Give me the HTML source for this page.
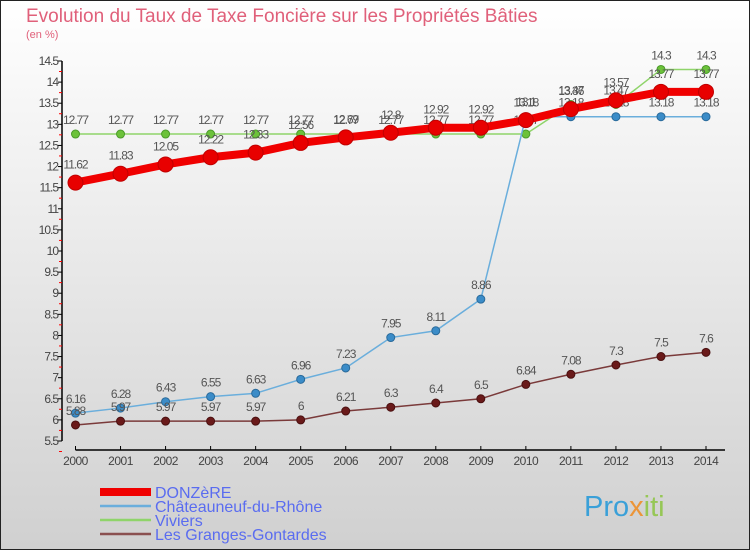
<!DOCTYPE html>
<html><head><meta charset="utf-8"><style>
body{margin:0;width:750px;height:550px;overflow:hidden;font-family:"Liberation Sans",sans-serif}
</style></head><body>
<svg id="chart" width="750" height="550" xmlns="http://www.w3.org/2000/svg">
<defs><linearGradient id="bg" x1="0" y1="0" x2="0" y2="1"><stop offset="0" stop-color="#ffffff"/><stop offset="1" stop-color="#d0d0d0"/></linearGradient></defs>
<rect x="0.5" y="0.5" width="749" height="549" fill="url(#bg)" stroke="#222"/>
<text x="26" y="22" font-size="19" fill="#e0607a">Evolution du Taux de Taxe Foncière sur les Propriétés Bâties</text>
<text x="26" y="38" font-size="11" fill="#e0607a">(en %)</text>
<g id="g"></g>
<text x="584" y="516" font-size="29" fill="#3aa0d8">Pro<tspan fill="#f08a1c" fill-opacity="0.85">x</tspan><tspan fill="#8bc43f" fill-opacity="0.85">iti</tspan></text>
</svg>
<script>
const years=[2000,2001,2002,2003,2004,2005,2006,2007,2008,2009,2010,2011,2012,2013,2014];
const donzere=[11.62,11.83,12.05,12.22,12.33,12.56,12.69,12.8,12.92,12.92,13.1,13.36,13.57,13.77,13.77];
const chateauneuf=[6.16,6.28,6.43,6.55,6.63,6.96,7.23,7.95,8.11,8.86,13.18,13.18,13.18,13.18,13.18];
const viviers=[12.77,12.77,12.77,12.77,12.77,12.77,12.77,12.77,12.77,12.77,12.77,13.47,13.47,14.3,14.3];
const granges=[5.88,5.97,5.97,5.97,5.97,6,6.21,6.3,6.4,6.5,6.84,7.08,7.3,7.5,7.6];
const yTicks=[5.5,6,6.5,7,7.5,8,8.5,9,9.5,10,10.5,11,11.5,12,12.5,13,13.5,14,14.5];
const NS="http://www.w3.org/2000/svg";
const g=document.getElementById('g');
const X=i=>75.5+i*(706-75.5)/14;
const Y=v=>61+(14.5-v)*(441-61)/9;
function el(t,a){const e=document.createElementNS(NS,t);for(const k in a)e.setAttribute(k,a[k]);g.appendChild(e);return e;}
let ax=el('path',{d:`M62 ${Y(14.5)}V${Y(5.5)}M75.5 450H725`,stroke:'#000','stroke-width':1.5,fill:'none'});


yTicks.forEach(v=>{
 let t=el('line',{x1:58,x2:62,y1:Y(v),y2:Y(v),stroke:'#000'});
 
 
 let m=el('line',{x1:59,x2:62,y1:Y(v)+10.5,y2:Y(v)+10.5,stroke:'#f00'});
 
 
 let l=el('text',{x:58,y:Y(v)+4,'font-size':12,'text-anchor':'end',fill:'#444','letter-spacing':'-1'});
 l.textContent=v;
 
 
});
years.forEach((yr,i)=>{
 let t=el('line',{x1:X(i),x2:X(i),y1:446,y2:450,stroke:'#000'});
 
 
 let l=el('text',{x:X(i),y:465,'font-size':12,'text-anchor':'middle',fill:'#444','letter-spacing':'-0.5'});
 l.textContent=yr;
 
 
});
function series(name,vals,color,w,r,dot,stroke){
 let p=el('polyline',{points:vals.map((v,i)=>X(i)+','+Y(v)).join(' '),fill:'none',stroke:color,'stroke-width':w});
 
 
 vals.forEach((v,i)=>{
  let c=el('circle',{cx:X(i),cy:Y(v),r:r,fill:dot,stroke:stroke,'stroke-width':1});
  
  
  let t=el('text',{x:X(i),y:Y(v)-10-(r>5?4:0),'font-size':12,'text-anchor':'middle',fill:'#555','letter-spacing':'-1'});
  t.textContent=v;
  
  
 });
}
series('viviers',viviers,'#8fd46a',1.5,4,'#6cc23a','#4a9a2a');
series('chateauneuf',chateauneuf,'#6aaedc',1.5,4,'#3b8cc8','#2a6a9a');
series('granges',granges,'#7a3a3a',1.5,4,'#6a1a1a','#4a1010');
series('donzere',donzere,'#f00000',8,7.5,'#e80000','#c00000');
const legend=[['DONZèRE','#f00000',8],['Châteauneuf-du-Rhône','#6aaedc',2.5],['Viviers','#8fd46a',2.5],['Les Granges-Gontardes','#8a5050',2.5]];
legend.forEach((e,i)=>{
 let y=492+i*14;
 let l=el('line',{x1:100,x2:151,y1:y,y2:y,stroke:e[1],'stroke-width':e[2]});
 
 
 let t=el('text',{x:155,y:y+6,'font-size':16,fill:'#5a6cf0'});
 t.textContent=e[0];
 
 
});
</script>
</body></html>
